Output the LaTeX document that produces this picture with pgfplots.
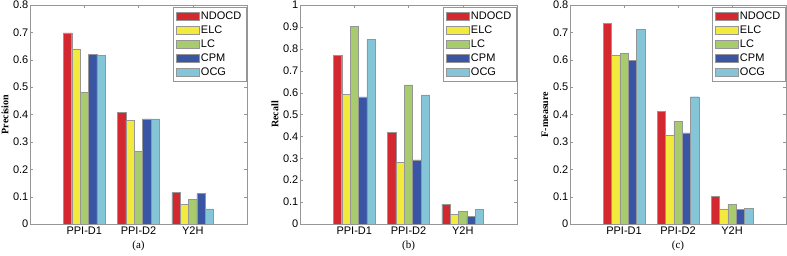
\documentclass[border=0pt]{standalone}
\usepackage{fontspec}
\setmainfont{Liberation Serif}
\setsansfont{Liberation Sans}
\usepackage{pgfplots}
\usepackage{pgfplotstable}
\pgfplotsset{compat=1.18}
\definecolor{cR}{RGB}{212,40,48}
\definecolor{cY}{RGB}{242,234,60}
\definecolor{cG}{RGB}{168,203,110}
\definecolor{cB}{RGB}{58,85,164}
\definecolor{cC}{RGB}{132,198,215}
\definecolor{axgray}{RGB}{150,150,150}

\pgfplotstableread{
x NDOCD ELC LC CPM OCG
1 0.698 0.640 0.480 0.620 0.617
2 0.408 0.379 0.266 0.384 0.384
3 0.115 0.071 0.091 0.112 0.055
}\tabA
\pgfplotstableread{
x NDOCD ELC LC CPM OCG
1 0.770 0.593 0.903 0.580 0.842
2 0.417 0.282 0.635 0.293 0.590
3 0.090 0.045 0.059 0.034 0.066
}\tabB
\pgfplotstableread{
x NDOCD ELC LC CPM OCG
1 0.732 0.615 0.624 0.598 0.711
2 0.412 0.324 0.376 0.333 0.465
3 0.102 0.055 0.073 0.053 0.058
}\tabC

\pgfplotsset{
  mybar/.style={
    scale only axis, width=217pt, height=219pt,
    anchor=south west,
    ybar, bar width=0.154,
    xmin=0, xmax=4, ymin=0,
    xtick={1,2,3}, xticklabels={PPI-D1,PPI-D2,Y2H},
    tick align=inside, major tick length=3pt,
    xtick pos=both, ytick pos=both,
    axis line style={axgray}, tick style={axgray},
    every tick label/.append style={font=\sffamily\fontsize{11}{13}\selectfont, text=black},
    /pgf/number format/assume math mode=true,
    yticklabel style={/pgf/number format/fixed, /pgf/number format/precision=1, inner xsep=1.5pt},
    xticklabel style={inner ysep=3pt},
    every axis y label/.style={at={([xshift=-25pt]axis description cs:0,0.5)}, rotate=90, anchor=center, font=\rmfamily\bfseries\fontsize{10}{12}\selectfont},
    every axis x label/.style={at={([yshift=-22pt]axis description cs:0.5,0)}, anchor=center, font=\rmfamily\fontsize{11}{13}\selectfont},
    legend style={at={(1,1)}, anchor=north east, xshift=-1pt, yshift=-2pt, draw=axgray,
      font=\sffamily\fontsize{11}{13}\selectfont,
      nodes={inner sep=1.5pt, text height=8.5pt, text depth=2.5pt}},
    legend cell align=left,
    legend image code/.code={\draw[#1, draw=axgray] (0pt,-4pt) rectangle (23pt,4pt);},
  },
  bR/.style={fill=cR, draw=axgray, bar shift=-0.308},
  bY/.style={fill=cY, draw=axgray, bar shift=-0.154},
  bG/.style={fill=cG, draw=axgray, bar shift=0},
  bB/.style={fill=cB, draw=axgray, bar shift=0.154},
  bC/.style={fill=cC, draw=axgray, bar shift=0.308},
}

\begin{document}
\begin{tikzpicture}
\useasboundingbox (0pt,0pt) rectangle (787pt,255pt);
\begin{axis}[mybar, at={(30pt,31pt)}, ymax=0.8,
  ytick={0,0.1,0.2,0.3,0.4,0.5,0.6,0.7,0.8},
  ylabel={Precision}, xlabel={(a)}]
\addplot[bR] table[x=x,y=NDOCD]{\tabA};
\addplot[bY] table[x=x,y=ELC]{\tabA};
\addplot[bG] table[x=x,y=LC]{\tabA};
\addplot[bB] table[x=x,y=CPM]{\tabA};
\addplot[bC] table[x=x,y=OCG]{\tabA};
\legend{NDOCD,ELC,LC,CPM,OCG}
\end{axis}
\begin{axis}[mybar, at={(300pt,31pt)}, ymax=1,
  ytick={0,0.1,0.2,0.3,0.4,0.5,0.6,0.7,0.8,0.9,1},
  ylabel={Recall}, xlabel={(b)}]
\addplot[bR] table[x=x,y=NDOCD]{\tabB};
\addplot[bY] table[x=x,y=ELC]{\tabB};
\addplot[bG] table[x=x,y=LC]{\tabB};
\addplot[bB] table[x=x,y=CPM]{\tabB};
\addplot[bC] table[x=x,y=OCG]{\tabB};
\legend{NDOCD,ELC,LC,CPM,OCG}
\end{axis}
\begin{axis}[mybar, at={(570pt,31pt)}, width=216pt, ymax=0.8,
  ytick={0,0.1,0.2,0.3,0.4,0.5,0.6,0.7,0.8},
  ylabel={F-measure}, xlabel={(c)}]
\addplot[bR] table[x=x,y=NDOCD]{\tabC};
\addplot[bY] table[x=x,y=ELC]{\tabC};
\addplot[bG] table[x=x,y=LC]{\tabC};
\addplot[bB] table[x=x,y=CPM]{\tabC};
\addplot[bC] table[x=x,y=OCG]{\tabC};
\legend{NDOCD,ELC,LC,CPM,OCG}
\end{axis}
\end{tikzpicture}
\end{document}
